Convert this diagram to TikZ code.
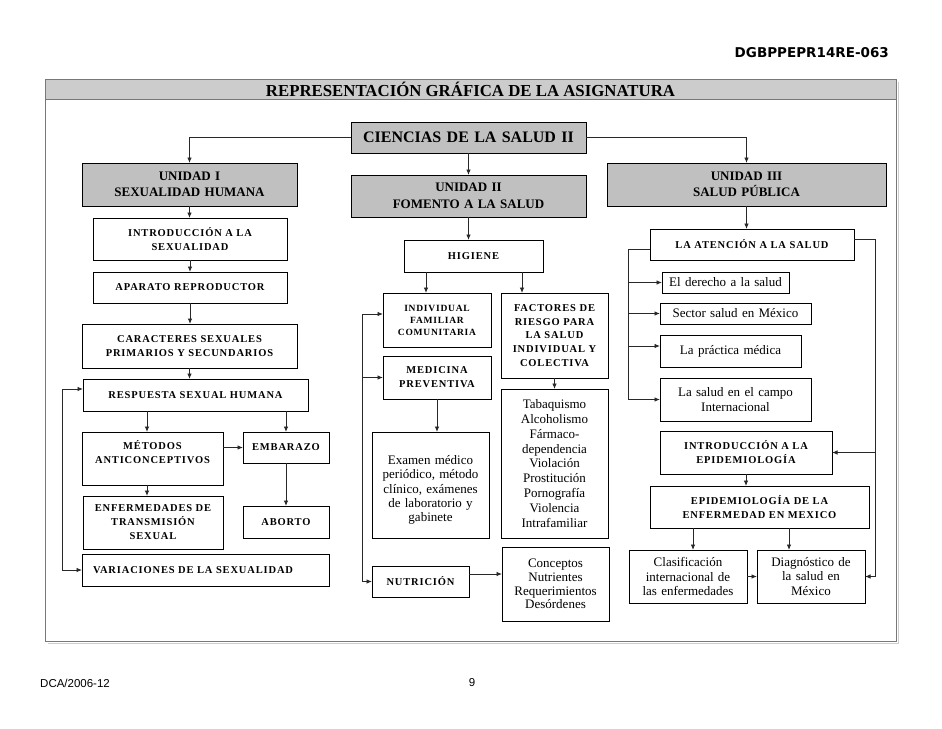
\documentclass[tikz,border=0pt]{standalone}
\usepackage{fontspec}
\setmainfont{Liberation Serif}
\newfontfamily\capsfont{Liberation Serif}[LetterSpace=8]
\newfontfamily\dvsans{DejaVu Sans}
\newfontfamily\lsans{Liberation Sans}
\usetikzlibrary{arrows.meta}
\definecolor{boxgray}{RGB}{192,192,192}
\definecolor{bandgray}{RGB}{204,204,204}
\definecolor{framegray}{RGB}{120,120,120}
\definecolor{shadowgray}{RGB}{205,205,205}
\definecolor{linecol}{RGB}{40,40,40}
\newcommand\placebox[7][]{%
  \pgfmathsetmacro\bxw{#5-#3}%
  \pgfmathsetmacro\bxh{#6-#4}%
  \pgfmathsetmacro\bxt{#5-#3-6}%
  \pgfmathsetmacro\bxcx{(#3+#5)/2}%
  \pgfmathsetmacro\bxcy{(#4+#6)/2}%
  \node[box,minimum width=\bxw pt,minimum height=\bxh pt,text width=\bxt pt,#1] (#2) at (\bxcx,\bxcy) {#7};}
\begin{document}
\begin{tikzpicture}[x=1pt,y=-1pt,
  box/.style={draw=black,line width=0.9pt,inner sep=0pt,outer sep=0pt,align=center,fill=white},
  unitbox/.style={fill=boxgray,font=\fontsize{13}{16.5}\selectfont\bfseries},
  capsbox/.style={font=\capsfont\fontsize{10.5}{14}\selectfont\bfseries},
  smallcapsbox/.style={font=\capsfont\fontsize{9.5}{12}\selectfont\bfseries},
  txtbox/.style={font=\fontsize{13}{14.8}\selectfont},
  arr/.style={draw=linecol,line width=0.9pt,-{Latex[length=5.5pt,width=4.5pt]}},
  arrtwo/.style={draw=linecol,line width=0.9pt,{Latex[length=5.5pt,width=4.5pt]}-{Latex[length=5.5pt,width=4.5pt]}}]
\useasboundingbox (0,0) rectangle (942,728);
\fill[white] (0,0) rectangle (942,728);

% page header / frame
\node[anchor=east,inner sep=0pt,font=\dvsans\fontsize{13.5}{16}\selectfont\bfseries] (code) at (889,53) {DGBPPEPR14RE-063};
\draw[shadowgray,line width=1.4pt] (898.5,82) -- (898.5,643.5) -- (48,643.5);
\draw[framegray,line width=0.8pt] (45,79) rectangle (896,641);
\node[draw=framegray,fill=bandgray,line width=0.8pt,inner sep=0pt,minimum width=851pt,minimum height=20pt,
  font=\fontsize{16.8}{18}\selectfont\bfseries] (hdr) at (470.5,89) {REPRESENTACIÓN GRÁFICA DE LA ASIGNATURA};

% top
\placebox[unitbox,font=\fontsize{16}{19}\selectfont\bfseries]{cien}{351}{122}{586}{153}{CIENCIAS DE LA SALUD II}
\placebox[unitbox]{u1}{82}{163}{297}{206}{UNIDAD I\\SEXUALIDAD HUMANA}
\placebox[unitbox]{u2}{351}{175}{586}{217}{UNIDAD II\\FOMENTO A LA SALUD}
\placebox[unitbox]{u3}{607}{163}{886}{206}{UNIDAD III\\SALUD PÚBLICA}

% unidad I
\placebox[capsbox]{i1}{93}{218}{287}{260}{INTRODUCCIÓN A LA\\SEXUALIDAD}
\placebox[capsbox]{apar}{93}{272}{287}{303}{APARATO REPRODUCTOR}
\placebox[capsbox]{car}{82}{324}{297}{368}{CARACTERES SEXUALES\\PRIMARIOS Y SECUNDARIOS}
\placebox[capsbox]{resp}{83}{379}{308}{411}{RESPUESTA SEXUAL HUMANA}
\placebox[capsbox]{met}{82}{432}{223}{485}{MÉTODOS\\ANTICONCEPTIVOS\\\mbox{}}
\placebox[capsbox]{emb}{243}{432}{329}{463}{EMBARAZO}
\placebox[capsbox]{enf}{83}{496}{223}{549}{ENFERMEDADES DE\\TRANSMISIÓN\\SEXUAL}
\placebox[capsbox]{abo}{243}{506}{329}{538}{ABORTO}
\placebox[capsbox,align=left,text width=225pt]{var}{82}{554}{329}{586}{VARIACIONES DE LA SEXUALIDAD}

% unidad II
\placebox[capsbox]{hig}{404}{240}{543}{272}{HIGIENE}
\placebox[smallcapsbox]{ind}{383}{293}{491}{347}{INDIVIDUAL\\FAMILIAR\\COMUNITARIA}
\placebox[capsbox,font=\capsfont\fontsize{10.5}{13.7}\selectfont\bfseries]{fac}{501}{293}{608}{378}{FACTORES DE\\RIESGO PARA\\LA SALUD\\INDIVIDUAL Y\\COLECTIVA}
\placebox[capsbox]{med}{383}{356}{491}{399}{MEDICINA\\PREVENTIVA}
\placebox[txtbox,font=\fontsize{13}{14.3}\selectfont]{exa}{372}{432}{489}{538}{\rule{0pt}{19pt}Examen médico\\periódico, método\\clínico, exámenes\\de laboratorio y\\gabinete}
\placebox[txtbox]{tab}{501}{389}{608}{538}{Tabaquismo\\Alcoholismo\\Fármaco-\\dependencia\\Violación\\Prostitución\\Pornografía\\Violencia\\Intrafamiliar}
\placebox[capsbox]{nut}{372}{566}{469}{597}{NUTRICIÓN}
\placebox[txtbox,font=\fontsize{13}{13.8}\selectfont]{con}{502}{547}{609}{621}{Conceptos\\Nutrientes\\Requerimientos\\Desórdenes}

% unidad III
\placebox[capsbox]{aten}{650}{229}{854}{260}{LA ATENCIÓN A LA SALUD}
\placebox[txtbox]{der}{662}{272}{789}{293}{El derecho a la salud}
\placebox[txtbox]{sec}{660}{303}{811}{324}{Sector salud en México}
\placebox[txtbox]{prac}{660}{335}{801}{367}{La práctica médica}
\placebox[txtbox]{camp}{660}{378}{811}{421}{La salud en el campo\\Internacional}
\placebox[capsbox]{ie}{660}{431}{832}{474}{INTRODUCCIÓN A LA\\EPIDEMIOLOGÍA}
\placebox[capsbox]{em}{650}{486}{869}{528}{EPIDEMIOLOGÍA DE LA\\ENFERMEDAD EN MEXICO}
\placebox[txtbox]{clas}{629}{550}{747}{603}{Clasificación\\internacional de\\las enfermedades}
\placebox[txtbox]{diag}{757}{550}{865}{603}{Diagnóstico de\\la salud en\\México}

% footer
\node[anchor=west,inner sep=0pt,font=\lsans\fontsize{11.5}{13}\selectfont] (foot) at (40,683) {DCA/2006-12};
\node[inner sep=0pt,font=\lsans\fontsize{11.5}{13}\selectfont] (pg) at (472,683) {9};

% helper coordinates
\coordinate (m1) at (147,0);
\coordinate (h1) at (426,0);
\coordinate (h2) at (522,0);
\coordinate (L1) at (62,0);
\coordinate (L2) at (362,0);
\coordinate (L3) at (628,0);
\coordinate (R3) at (875,0);
\coordinate (e1) at (693,0);
\coordinate (e2) at (789,0);
\coordinate (ny) at (0,574);
\coordinate (ry) at (0,389);
\coordinate (iy) at (0,314);
\coordinate (py) at (0,346);
\coordinate (aly) at (0,249);
\coordinate (ary) at (0,239);

% connectors top
\draw[arr] (cien.west) -| (u1.north);
\draw[arr] (cien.east) -| (u3.north);
\draw[arr] (cien.south) -- (u2.north);

% unidad I
\draw[arr] (u1.south) -- (u1.south |- i1.north);
\draw[arr] (i1.south) -- (apar.north);
\draw[arr] (apar.south) -- (apar.south |- car.north);
\draw[arr] (car.south) -- (car.south |- resp.north);
\draw[arr] (resp.south -| m1) -- (met.north -| m1);
\draw[arr] (resp.south -| emb.north) -- (emb.north);
\draw[arr] (met.east |- emb.west) -- (emb.west);
\draw[arr] (met.south -| m1) -- (enf.north -| m1);
\draw[arr] (emb.south) -- (abo.north);
\draw[arrtwo] (resp.west |- ry) -| (L1 |- var.west) -- (var.west);

% unidad II
\draw[arr] (u2.south) -- (u2.south |- hig.north);
\draw[arr] (hig.south -| h1) -- (ind.north -| h1);
\draw[arr] (hig.south -| h2) -- (fac.north -| h2);
\draw[arr] (L2 |- nut.west) |- (ind.west |- iy);
\draw[arr] (L2 |- med.west) -- (med.west);
\draw[arr] (L2 |- nut.west) -- (nut.west);
\draw[arr] (med.south) -- (med.south |- exa.north);
\draw[arr] (fac.south) -- (tab.north);
\draw[arr] (nut.east |- ny) -- (con.west |- ny);

% unidad III
\draw[arr] (u3.south) -- (u3.south |- aten.north);
\draw[arr] (aten.west |- aly) -| (L3 |- camp.west) -- (camp.west);
\draw[arr] (L3 |- der.west) -- (der.west);
\draw[arr] (L3 |- sec.west) -- (sec.west);
\draw[arr] (L3 |- py) -- (prac.west |- py);
\draw[arr] (aten.east |- ary) -| (R3 |- diag.east) -- (diag.east);
\draw[arr] (R3 |- ie.east) -- (ie.east);
\draw[arr] (ie.south) -- (ie.south |- em.north);
\draw[arr] (em.south -| e1) -- (clas.north -| e1);
\draw[arr] (em.south -| e2) -- (diag.north -| e2);
\draw[arr] (clas.east) -- (diag.west);
\end{tikzpicture}
\end{document}
